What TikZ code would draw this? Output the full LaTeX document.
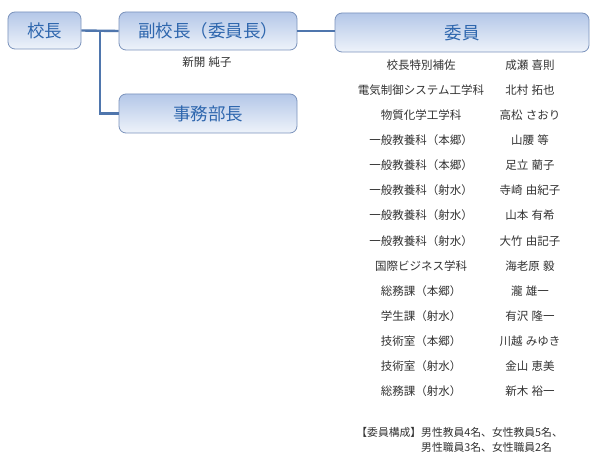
\documentclass[tikz,border=0pt]{standalone}
\usepackage{fontspec}
\setmainfont{Noto Sans CJK JP}
\definecolor{boxtext}{HTML}{2F67AE}
\definecolor{boxborder}{HTML}{7B93BC}
\definecolor{boxtop}{HTML}{B4C7E8}
\definecolor{boxbot}{HTML}{EEF3FA}
\definecolor{connc}{HTML}{4F76AD}
\definecolor{smalltext}{HTML}{333333}
\newcommand{\mysmallfont}{\fontsize{11.5bp}{13bp}\selectfont\spaceskip=0.3em plus 0.1em\relax}
\tikzset{
  orgbox/.style={draw=boxborder, line width=0.8bp, rounded corners=7bp,
    top color=boxtop, bottom color=boxbot, text=boxtext, inner sep=0pt,
    font=\fontsize{17.5bp}{20bp}\selectfont},
  conn/.style={draw=connc, line width=2.4bp},
  small/.style={text=smalltext, inner sep=0pt, font=\mysmallfont},
}
\begin{document}
\begin{tikzpicture}[x=1bp,y=-1bp]
\useasboundingbox[fill=white] (0,0) rectangle (599,464);
\node[orgbox, minimum width=73bp, minimum height=37bp] (k) at (44.5,30.5) {校長};
\node[orgbox, minimum width=178bp, minimum height=38bp] (fk) at (208,31) {副校長（委員長）};
\node[orgbox, minimum width=178bp, minimum height=39bp] (jm) at (208,113.5) {事務部長};
\node[orgbox, minimum width=254bp, minimum height=39bp] (iin) at (462,32.5) {委員};
\coordinate (br) at (100,31);
\draw[conn] (k.east) -- (fk.west);
\draw[conn] (br) |- (jm.west);
\draw[conn] (fk.east) -- (fk.east -| iin.west);
\node[small] (fkname) at (207,62) {新開 純子};
\foreach \i/\d/\n in {
  0/校長特別補佐/成瀬 喜則,
  1/電気制御システム工学科/北村 拓也,
  2/物質化学工学科/高松 さおり,
  3/一般教養科（本郷）/山腰 等,
  4/一般教養科（本郷）/足立 藺子,
  5/一般教養科（射水）/寺崎 由紀子,
  6/一般教養科（射水）/山本 有希,
  7/一般教養科（射水）/大竹 由記子,
  8/国際ビジネス学科/海老原 毅,
  9/総務課（本郷）/瀧 雄一,
  10/学生課（射水）/有沢 隆一,
  11/技術室（本郷）/川越 みゆき,
  12/技術室（射水）/金山 恵美,
  13/総務課（射水）/新木 裕一}{
  \node[small] (d\i) at (421,{65+25.1*\i}) {\d};
  \node[small] (n\i) at (530,{65+25.1*\i}) {\n};
}
\node[small, anchor=north east, font=\fontsize{10.8bp}{15bp}\selectfont] (comp) at (563,426)
  {\begin{tabular}{@{}l@{}l@{}}【委員構成】&男性教員4名、女性教員5名、\\&男性職員3名、女性職員2名\end{tabular}};
\end{tikzpicture}
\end{document}
